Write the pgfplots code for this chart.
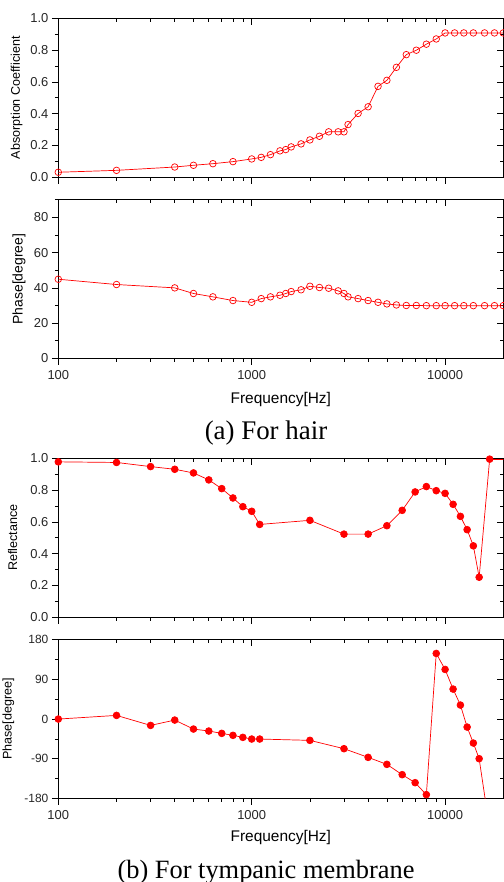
\documentclass[border=0pt]{standalone}
\usepackage{fontspec}
\setmainfont{Liberation Sans}
\newfontfamily\capfont{Liberation Serif}
\usepackage{pgfplots}
\pgfplotsset{compat=1.18}

\pgfplotsset{
  scale only axis, width=445bp, height=158.5bp,
  xmin=100, xmax=20000,
  major tick length=6.5bp, minor tick length=3.5bp,
  axis line style={line width=0.8bp},
  tick style={black, line width=0.7bp},
  tick label style={font=\fontsize{13}{13}\selectfont, text=black!85},
  xticklabel style={yshift=-2bp},
  xlabel style={at={(axis description cs:0.5,-0.26)}, anchor=center,
    font=\fontsize{15.5}{16}\selectfont},
}
\pgfplotsset{/pgf/number format/assume math mode=true}

\begin{document}
\begin{tikzpicture}
\path[use as bounding box] (0,0) rectangle (504bp,-882bp);

% (a) absorption coefficient
\begin{axis}[xmode=log, at={(58.3bp,-177bp)}, anchor=south west,
  xtick={100,1000,10000}, xticklabels={},
  minor xtick={200,300,400,500,600,700,800,900,2000,3000,4000,5000,6000,7000,8000,9000},
  ymin=0, ymax=1, ytick={0,0.2,...,1}, minor ytick={0.1,0.3,0.5,0.7,0.9},
  xtick pos=right, ytick pos=right, tick align=inside, yticklabels={}]
\end{axis}
\begin{axis}[xmode=log, at={(58.3bp,-177bp)}, anchor=south west,
  xtick={100,1000,10000}, xticklabels={},
  minor xtick={200,300,400,500,600,700,800,900,2000,3000,4000,5000,6000,7000,8000,9000},
  ymin=0, ymax=1, ytick={0,0.2,...,1}, minor ytick={0.1,0.3,0.5,0.7,0.9},
  yticklabel style={/pgf/number format/.cd, fixed, fixed zerofill, precision=1},
  xtick pos=left, ytick pos=left, tick align=outside,
  ylabel={Absorption Coefficient},
  ylabel style={at={(axis description cs:-0.0935,0.5)}, anchor=center, font=\fontsize{12.6}{13}\selectfont}]
\addplot[color=red, line width=0.7bp, mark=o, mark size=3.3bp,
  mark options={solid, fill=white}] coordinates {
  (100,0.03) (200,0.042) (400,0.063) (500,0.074) (630,0.084) (800,0.097)
  (1000,0.114) (1120,0.124) (1250,0.141) (1400,0.165) (1500,0.173) (1600,0.19)
  (1800,0.209) (2000,0.234) (2240,0.257) (2500,0.285) (2800,0.285) (3000,0.285)
  (3150,0.331) (3550,0.401) (4000,0.443) (4500,0.572) (5000,0.61) (5600,0.692)
  (6300,0.772) (7100,0.80) (8000,0.838) (9000,0.871) (10000,0.909) (11200,0.909)
  (12500,0.909) (14000,0.909) (16000,0.909) (18000,0.909) (20000,0.909)
};
\end{axis}

% (a) phase
\begin{axis}[xmode=log, at={(58.3bp,-358.3bp)}, anchor=south west,
  xtick={100,1000,10000}, xticklabels={},
  minor xtick={200,300,400,500,600,700,800,900,2000,3000,4000,5000,6000,7000,8000,9000},
  ymin=0, ymax=90, ytick={0,20,40,60,80}, minor ytick={10,30,50,70,90},
  xtick pos=right, ytick pos=right, tick align=inside, yticklabels={}]
\end{axis}
\begin{axis}[xmode=log, at={(58.3bp,-358.3bp)}, anchor=south west,
  xtick={100,1000,10000}, xticklabels={100,1000,10000},
  minor xtick={200,300,400,500,600,700,800,900,2000,3000,4000,5000,6000,7000,8000,9000},
  ymin=0, ymax=90, ytick={0,20,40,60,80}, minor ytick={10,30,50,70,90},
  xtick pos=left, ytick pos=left, tick align=outside,
  xlabel={Frequency[Hz]}, ylabel={Phase[degree]},
  ylabel style={at={(axis description cs:-0.0883,0.5)}, anchor=center, font=\fontsize{14}{14}\selectfont}]
\addplot[color=red, line width=0.7bp, mark=o, mark size=3.3bp,
  mark options={solid, fill=white}] coordinates {
  (100,44.9) (200,41.9) (400,40.0) (500,36.8) (630,34.9) (800,32.8)
  (1000,31.8) (1120,33.9) (1250,34.9) (1400,35.8) (1500,36.8) (1600,37.9)
  (1800,38.9) (2000,40.9) (2240,40.2) (2500,39.8) (2800,38.3) (3000,36.8)
  (3150,34.9) (3550,33.9) (4000,32.8) (4500,31.8) (5000,30.9) (5600,30.3)
  (6300,30.0) (7100,30.0) (8000,29.9) (9000,29.9) (10000,29.9) (11200,29.9)
  (12500,29.9) (14000,29.9) (16000,29.9) (18000,29.9) (20000,29.9)
};
\end{axis}

\node[font=\capfont\fontsize{27}{27}\selectfont, anchor=base] at (266bp,-439.3bp) {(a) For hair};

% (b) reflectance
\begin{axis}[xmode=log, at={(58.3bp,-617bp)}, anchor=south west,
  xtick={100,1000,10000}, xticklabels={},
  minor xtick={200,300,400,500,600,700,800,900,2000,3000,4000,5000,6000,7000,8000,9000},
  ymin=0, ymax=1, ytick={0,0.2,...,1}, minor ytick={0.1,0.3,0.5,0.7,0.9},
  xtick pos=right, ytick pos=right, tick align=inside, yticklabels={}]
\end{axis}
\begin{axis}[xmode=log, at={(58.3bp,-617bp)}, anchor=south west,
  xtick={100,1000,10000}, xticklabels={},
  minor xtick={200,300,400,500,600,700,800,900,2000,3000,4000,5000,6000,7000,8000,9000},
  ymin=0, ymax=1, ytick={0,0.2,...,1}, minor ytick={0.1,0.3,0.5,0.7,0.9},
  yticklabel style={/pgf/number format/.cd, fixed, fixed zerofill, precision=1},
  xtick pos=left, ytick pos=left, tick align=outside,
  ylabel={Reflectance},
  ylabel style={at={(axis description cs:-0.1025,0.5)}, anchor=center, font=\fontsize{12.6}{13}\selectfont}]
\addplot[color=red, line width=0.7bp, mark=*, mark size=3.4bp,
  mark options={solid, fill=red}] coordinates {
  (100,0.979) (200,0.975) (300,0.949) (400,0.932) (500,0.909) (600,0.865)
  (700,0.81) (800,0.751) (900,0.696) (1000,0.667) (1100,0.584) (2000,0.61)
  (3000,0.523) (4000,0.523) (5000,0.576) (6000,0.673) (7000,0.789) (8000,0.823)
  (9000,0.797) (10000,0.78) (11000,0.711) (12000,0.635) (13000,0.551)
  (14000,0.449) (15000,0.251) (17000,0.996)
};
\addplot[color=red, line width=0.7bp, no marks] coordinates {(17000,0.996) (22000,0.996)};
\end{axis}

% (b) phase
\begin{axis}[xmode=log, at={(58.3bp,-798.3bp)}, anchor=south west,
  xtick={100,1000,10000}, xticklabels={},
  minor xtick={200,300,400,500,600,700,800,900,2000,3000,4000,5000,6000,7000,8000,9000},
  ymin=-180, ymax=180, ytick={-180,-90,0,90,180}, minor ytick={-135,-45,45,135},
  xtick pos=right, ytick pos=right, tick align=inside, yticklabels={}]
\end{axis}
\begin{axis}[xmode=log, at={(58.3bp,-798.3bp)}, anchor=south west,
  xtick={100,1000,10000}, xticklabels={100,1000,10000},
  minor xtick={200,300,400,500,600,700,800,900,2000,3000,4000,5000,6000,7000,8000,9000},
  ymin=-180, ymax=180, ytick={-180,-90,0,90,180}, minor ytick={-135,-45,45,135},
  yticklabel style={font=\fontsize{12}{12}\selectfont},
  xtick pos=left, ytick pos=left, tick align=outside,
  xlabel={Frequency[Hz]}, ylabel={Phase[degree]},
  xlabel style={at={(axis description cs:0.5,-0.25)}},
  ylabel style={at={(axis description cs:-0.1124,0.5)}, anchor=center, font=\fontsize{12.6}{13}\selectfont}]
\addplot[color=red, line width=0.7bp, mark=*, mark size=3.4bp,
  mark options={solid, fill=red}] coordinates {
  (100,0) (200,8.3) (300,-14.4) (400,-2.3) (500,-22.7) (600,-27.2)
  (700,-32.5) (800,-37) (900,-41.6) (1000,-45.4) (1100,-45.4) (2000,-48.4)
  (3000,-67.3) (4000,-87) (5000,-102.9) (6000,-126.3) (7000,-144.5)
  (8000,-171.7) (9000,149) (10000,112.7) (11000,68.1) (12000,31.8)
  (13000,-18.2) (14000,-54.5) (15000,-90)
};
\addplot[color=red, line width=0.7bp, no marks] coordinates {(15000,-90) (17000,-250)};
\end{axis}

\node[font=\capfont\fontsize{26.5}{27}\selectfont, anchor=base] at (266bp,-878bp) {(b) For tympanic membrane};
\end{tikzpicture}
\end{document}
